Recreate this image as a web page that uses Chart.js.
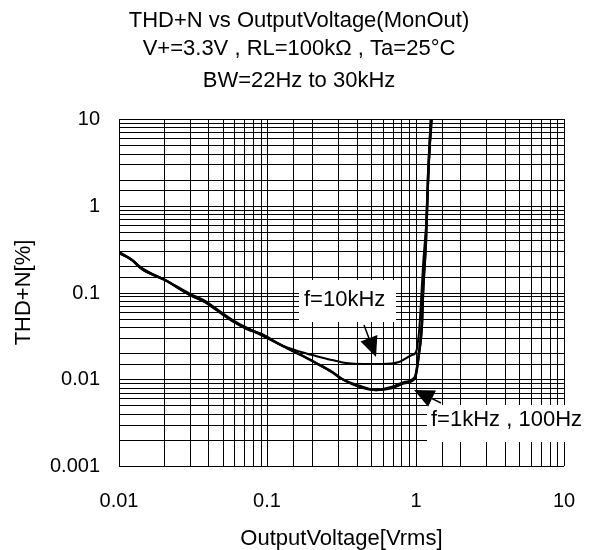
<!DOCTYPE html>
<html>
<head>
<meta charset="utf-8">
<script src="https://cdn.jsdelivr.net/npm/chart.js@4.4.1/dist/chart.umd.min.js"></script>
<style>
body { margin: 0; background: #fff; }
</style>
</head>
<body>
<canvas id="line-chart" width="598" height="550"></canvas>
<script>
let titleLines = ['THD+N vs OutputVoltage(MonOut)', 'V+=3.3V , RL=100k\u03A9 , Ta=25\u00B0C'];
let subTitle = 'BW=22Hz to 30kHz';
let xTitle = 'OutputVoltage[Vrms]';
let yTitle = 'THD+N[%]';
let xTickLabels = ['0.01', '0.1', '1', '10'];
let yTickLabels = ['0.001', '0.01', '0.1', '1', '10'];

let volt10k = [0.01, 0.0122, 0.0142, 0.0204, 0.03, 0.0378, 0.0441, 0.06, 0.0734, 0.0907, 0.1236, 0.168, 0.213, 0.273, 0.34, 0.45, 0.59, 0.77, 0.94, 1.0, 1.05, 1.08, 1.12, 1.19, 1.23, 1.3];
let thd10k = [0.288, 0.237, 0.19, 0.139, 0.094, 0.078, 0.066, 0.046, 0.039, 0.033, 0.0248, 0.0206, 0.0186, 0.0167, 0.0154, 0.0149, 0.015, 0.0158, 0.0189, 0.0207, 0.035, 0.08, 0.2, 0.9, 3.4, 10];

let volt1k = [0.01, 0.0122, 0.0142, 0.0204, 0.03, 0.0378, 0.0441, 0.06, 0.0734, 0.0907, 0.1236, 0.168, 0.213, 0.273, 0.32, 0.42, 0.54, 0.69, 0.85, 0.99, 1.06, 1.1, 1.13, 1.17, 1.22, 1.28];
let thd1k = [0.286, 0.236, 0.189, 0.138, 0.093, 0.077, 0.065, 0.046, 0.038, 0.033, 0.0246, 0.019, 0.0155, 0.0122, 0.0102, 0.0083, 0.0076, 0.0081, 0.0092, 0.0106, 0.02, 0.045, 0.1, 0.4, 2, 10];
let thd100 = [0.29, 0.238, 0.187, 0.14, 0.095, 0.079, 0.067, 0.047, 0.039, 0.0325, 0.0247, 0.0188, 0.0153, 0.012, 0.0101, 0.0082, 0.0075, 0.008, 0.0091, 0.0104, 0.02, 0.046, 0.1, 0.42, 2.1, 10];

// annotations, in data units
let noteTexts = ['f=10kHz', 'f=1kHz , 100Hz'];
let noteAt = [[0.177, 0.082], [1.28, 0.00339]];
let noteBox = [[0.164, 0.734, 0.139, 0.0457], [1.186, 16.4, 0.00505, 0.00189]];
let noteArrow = [[0.448, 0.0422, 0.539, 0.0181], [1.49, 0.00532, 0.97, 0.00752]];

const FONT = "'Liberation Sans', Arial, sans-serif";

function toPoints(xs, ys) {
    let pts = [];
    for (let i = 0; i < xs.length; i++) {
        pts.push({ x: xs[i], y: ys[i] });
    }
    return pts;
}

function decadeLabel(value, labels) {
    let l = Math.log10(value);
    if (Math.abs(l - Math.round(l)) > 1e-6) return '';
    for (let i = 0; i < labels.length; i++) {
        if (Math.abs(parseFloat(labels[i]) - value) < value * 1e-6) return labels[i];
    }
    return '';
}

const notesPlugin = {
    id: 'notes',
    beforeDatasetsDraw(chart) {
        let ctx = chart.ctx;
        let sx = chart.scales.x, sy = chart.scales.y;
        ctx.save();
        ctx.fillStyle = '#fff';
        noteBox.forEach(b => {
            let x1 = sx.getPixelForValue(b[0]), x2 = sx.getPixelForValue(b[1]);
            let y1 = sy.getPixelForValue(b[2]), y2 = sy.getPixelForValue(b[3]);
            ctx.fillRect(x1, y1, x2 - x1, y2 - y1);
        });
        ctx.restore();
    },
    afterDatasetsDraw(chart) {
        let ctx = chart.ctx;
        let sx = chart.scales.x, sy = chart.scales.y;
        ctx.save();
        ctx.fillStyle = '#000';
        ctx.strokeStyle = '#000';
        ctx.font = '22px ' + FONT;
        ctx.textAlign = 'left';
        ctx.textBaseline = 'middle';
        noteTexts.forEach((t, i) => {
            ctx.fillText(t, sx.getPixelForValue(noteAt[i][0]), sy.getPixelForValue(noteAt[i][1]));
        });
        noteArrow.forEach(a => {
            let x0 = sx.getPixelForValue(a[0]), y0 = sy.getPixelForValue(a[1]);
            let x1 = sx.getPixelForValue(a[2]), y1 = sy.getPixelForValue(a[3]);
            let ang = Math.atan2(y1 - y0, x1 - x0);
            let len = 20, half = 9;
            let bx = x1 - len * Math.cos(ang), by = y1 - len * Math.sin(ang);
            ctx.lineWidth = 1.5;
            ctx.beginPath();
            ctx.moveTo(x0, y0);
            ctx.lineTo(bx, by);
            ctx.stroke();
            ctx.beginPath();
            ctx.moveTo(x1, y1);
            ctx.lineTo(bx + half * Math.sin(ang), by - half * Math.cos(ang));
            ctx.lineTo(bx - half * Math.sin(ang), by + half * Math.cos(ang));
            ctx.closePath();
            ctx.fill();
        });
        ctx.restore();
    }
};

new Chart(document.getElementById('line-chart'), {
    type: 'line',
    data: {
        datasets: [{
            label: 'f=10kHz',
            data: toPoints(volt10k, thd10k),
            borderColor: '#000',
            borderWidth: 2,
            pointRadius: 0,
            cubicInterpolationMode: 'monotone',
            fill: false
        }, {
            label: 'f=1kHz',
            data: toPoints(volt1k, thd1k),
            borderColor: '#000',
            borderWidth: 2.5,
            pointRadius: 0,
            cubicInterpolationMode: 'monotone',
            fill: false
        }, {
            label: 'f=100Hz',
            data: toPoints(volt1k, thd100),
            borderColor: '#000',
            borderWidth: 2.5,
            pointRadius: 0,
            cubicInterpolationMode: 'monotone',
            fill: false
        }]
    },
    options: {
        responsive: false,
        animation: false,
        layout: { padding: 0 },
        plugins: {
            legend: { display: false },
            tooltip: { enabled: false },
            title: {
                display: true,
                text: titleLines,
                color: '#000',
                font: { family: FONT, size: 22, weight: 'normal', lineHeight: 28 / 22 },
                padding: { top: 7, bottom: 3 }
            },
            subtitle: {
                display: true,
                text: subTitle,
                color: '#000',
                font: { family: FONT, size: 22, weight: 'normal', lineHeight: 28 / 22 },
                padding: { top: 1, bottom: 24 }
            }
        },
        scales: {
            x: {
                type: 'logarithmic',
                min: 0.01,
                max: 10,
                alignToPixels: true,
                afterFit: s => { s.height = 84; },
                grid: { color: '#000', lineWidth: 1, drawTicks: false },
                border: { color: '#000', width: 1 },
                ticks: {
                    autoSkip: false,
                    maxRotation: 0,
                    padding: 23,
                    color: '#000',
                    font: { family: FONT, size: 20 },
                    callback: v => decadeLabel(v, xTickLabels)
                },
                title: {
                    display: true,
                    text: xTitle,
                    color: '#000',
                    font: { family: FONT, size: 22, lineHeight: 1.0 },
                    padding: { top: 4, bottom: 0 }
                }
            },
            y: {
                type: 'logarithmic',
                min: 0.001,
                max: 10,
                alignToPixels: true,
                afterFit: s => { s.width = 119; },
                grid: { color: '#000', lineWidth: 1, drawTicks: false },
                border: { color: '#000', width: 1 },
                ticks: {
                    autoSkip: false,
                    padding: 19,
                    color: '#000',
                    font: { family: FONT, size: 20 },
                    callback: v => decadeLabel(v, yTickLabels)
                },
                title: {
                    display: true,
                    text: yTitle,
                    color: '#000',
                    font: { family: FONT, size: 22 },
                    padding: { top: 11, bottom: 0 }
                }
            },
            // empty axis that keeps the right margin
            yRight: {
                type: 'logarithmic',
                position: 'right',
                min: 0.001,
                max: 10,
                afterFit: s => { s.width = 32; },
                grid: { display: false, drawTicks: false },
                border: { display: false },
                ticks: { display: false }
            }
        }
    },
    plugins: [notesPlugin]
});
</script>
</body>
</html>
